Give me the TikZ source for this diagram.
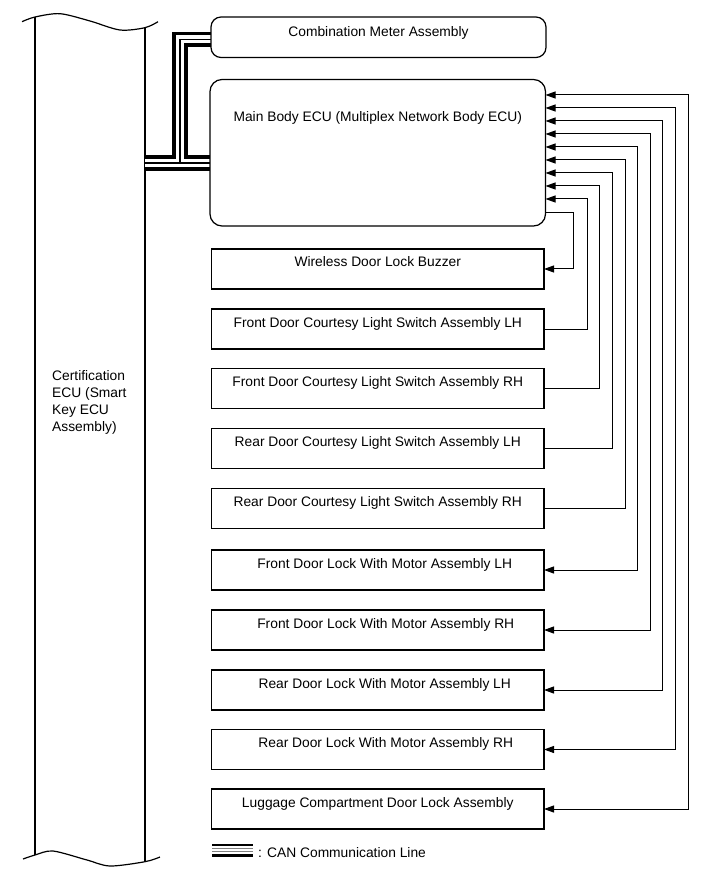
\documentclass[tikz,border=0pt]{standalone}
\usepackage{fontspec}
\setmainfont{Liberation Sans}
\usetikzlibrary{arrows.meta}
\begin{document}
\begin{tikzpicture}[x=1pt,y=-1pt,
  box/.style={draw, line width=1.25pt, fill=white, minimum width=332.5pt, minimum height=40pt, inner sep=0pt, outer sep=0pt, anchor=north west},
  rbox/.style={box, rounded corners=10pt},
  lbl/.style={anchor=base, font=\fontsize{13.8}{16}\selectfont, inner sep=0pt},
  wire/.style={line width=1pt, black},
  arr/.style={wire, -{Triangle[length=10pt,width=7pt]}},
  arrtwo/.style={wire, {Triangle[length=10pt,width=7pt]}-{Triangle[length=10pt,width=7pt]}},
  canA/.style={line width=15.5pt, line join=miter},
  canB/.style={line width=8pt, white, line join=miter},
  canC/.style={line width=1.2pt, line join=miter},
  certline/.style={line width=1.2pt}
]
\useasboundingbox (0,0) rectangle (713,882);

% Certification ECU outline
\draw[certline] plot[smooth] coordinates {(22,21.7) (35,17) (60,13.7) (90,21) (120,30) (145,27.7) (158,21.7)};
\draw[certline] plot[smooth] coordinates {(23,859) (35,855) (53,851) (87,860) (110,866) (145,861.7) (160,857)};
\draw[certline] (35,17) -- (35,855);
\draw[certline] (145,27.7) -- (145,861.7);
\coordinate (certR) at (145,163);
\coordinate (canT) at (180,163);
\node[anchor=north west, align=left, inner sep=0pt, font=\fontsize{13.8}{17}\selectfont] (certlbl) at (52,370) {Certification\\ECU (Smart\\Key ECU\\Assembly)};

% boxes (positions)
\coordinate (combpos) at (211,17);
\coordinate (ecupos) at (210,79.5);

% CAN lines
\draw[canA] (certR) -- (211,163) (canT) -- (180,39.5) -- (211,39.5);
\draw[canB] (certR) -- (211,163) (canT) -- (180,39.5) -- (211,39.5);
\draw[canC] (certR) -- (211,163) (canT) -- (180,39.5) -- (211,39.5);

\node[rbox, minimum width=335pt, minimum height=40.5pt] (comb) at (combpos) {};
\node[rbox, rounded corners=12pt, minimum width=335.5pt, minimum height=146.5pt] (ecu) at (ecupos) {};
\node[box] (buz) at (211.5,249) {};
\node[box] (fcl) at (211.5,309) {};
\node[box] (fcr) at (211.5,368.5) {};
\node[box] (rcl) at (211.5,428.5) {};
\node[box] (rcr) at (211.5,488.5) {};
\node[box] (fll) at (211.5,550) {};
\node[box] (flr) at (211.5,610) {};
\node[box] (rll) at (211.5,670) {};
\node[box] (rlr) at (211.5,729.5) {};
\node[box] (lug) at (211.5,789) {};

\node[lbl] (combt) at ([yshift=-19.5pt]comb.north) {Combination Meter Assembly};
\node[lbl] (ecut) at ([yshift=-42pt]ecu.north) {Main Body ECU (Multiplex Network Body ECU)};
\node[lbl] (buzt) at ([yshift=-18pt]buz.north) {Wireless Door Lock Buzzer};
\node[lbl] (fclt) at ([yshift=-18pt]fcl.north) {Front Door Courtesy Light Switch Assembly LH};
\node[lbl] (fcrt) at ([yshift=-18pt]fcr.north) {Front Door Courtesy Light Switch Assembly RH};
\node[lbl] (rclt) at ([yshift=-18pt]rcl.north) {Rear Door Courtesy Light Switch Assembly LH};
\node[lbl] (rcrt) at ([yshift=-18pt]rcr.north) {Rear Door Courtesy Light Switch Assembly RH};
\node[lbl] (fllt) at ([xshift=7pt,yshift=-18pt]fll.north) {Front Door Lock With Motor Assembly LH};
\node[lbl] (flrt) at ([xshift=8pt,yshift=-18pt]flr.north) {Front Door Lock With Motor Assembly RH};
\node[lbl] (rllt) at ([xshift=7pt,yshift=-18pt]rll.north) {Rear Door Lock With Motor Assembly LH};
\node[lbl] (rlrt) at ([xshift=8pt,yshift=-18pt]rlr.north) {Rear Door Lock With Motor Assembly RH};
\node[lbl] (lugt) at ([yshift=-18pt]lug.north) {Luggage Compartment Door Lock Assembly};

% ECU -> buzzer
\draw[arr] (ecu.east |- 0,212.7) -- (573,212.7) |- (buz.east);
% courtesy switches -> ECU
\draw[arr] (fcl.east) -| (587,199) -- (ecu.east |- 0,199);
\draw[arr] (fcr.east) -| (599.5,186) -- (ecu.east |- 0,186);
\draw[arr] (rcl.east) -| (612,173) -- (ecu.east |- 0,173);
\draw[arr] (rcr.east) -| (625,160) -- (ecu.east |- 0,160);
% door locks <-> ECU
\draw[arrtwo] (ecu.east |- 0,147) -- (637.5,147) |- (fll.east);
\draw[arrtwo] (ecu.east |- 0,134) -- (650,134) |- (flr.east);
\draw[arrtwo] (ecu.east |- 0,121) -- (662.5,121) |- (rll.east);
\draw[arrtwo] (ecu.east |- 0,108) -- (675,108) |- (rlr.east);
\draw[arrtwo] (ecu.east |- 0,95) -- (688,95) |- (lug.east);

% legend
\draw[line width=2.3pt] (212,845.2) -- (253,845.2);
\draw[line width=1pt, gray] (212,848.5) -- (253,848.5);
\draw[line width=1pt, gray] (212,851.5) -- (253,851.5);
\draw[line width=3pt] (212,855.5) -- (253,855.5);
\node[lbl, anchor=base west] (legt) at (258,857) {: CAN Communication Line};
\end{tikzpicture}
\end{document}
